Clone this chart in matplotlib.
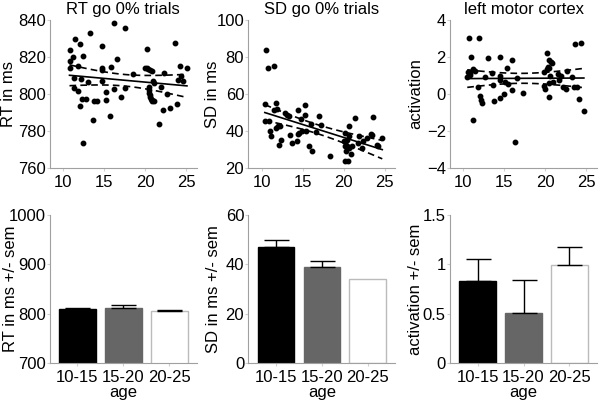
import numpy as np
import matplotlib
matplotlib.use("Agg")
import matplotlib.pyplot as plt

plt.rcParams['font.family'] = ['Liberation Sans', 'DejaVu Sans']

# scatter data: age vs RT, SD and activation
rt_age = [10.8, 10.9, 10.8, 11.2, 11.5, 12.1, 12.5, 11.8, 11.4, 11.3, 11.8, 12.2, 12.1, 12.3,
          12.8, 13.0, 12.5, 13.3, 13.7, 13.8, 14.1, 14.7, 14.8, 14.8, 14.8, 15.3, 15.3, 15.7,
          15.8, 16.2, 16.2, 16.6, 17.1, 17.5, 17.6, 18.5, 20.2, 20.0, 20.2, 20.4, 20.6, 20.9,
          20.5, 20.5, 20.5, 20.6, 20.6, 20.7, 20.8, 20.9, 21.0, 21.1, 21.1, 21.7, 21.9, 22.3,
          22.2, 22.7, 23.0, 23.6, 23.9, 24.0, 24.3, 24.4, 24.6, 25.1]
rt = [817.9, 823.8, 814.3, 820.2, 829.6, 826.9, 820.6, 815.2, 808.5, 803.5, 801.7, 808.2,
      793.6, 797.4, 797.4, 806.7, 773.5, 832.8, 785.7, 796.1, 796.5, 826.0, 813.9, 813.0,
      807.1, 801.3, 796.9, 788.2, 814.8, 838.2, 802.8, 818.8, 798.3, 835.9, 803.1, 810.7,
      824.4, 814.3, 813.9, 813.4, 813.0, 812.5, 803.7, 802.2, 800.8, 799.6, 798.3, 797.2,
      796.0, 796.9, 807.3, 805.8, 796.3, 783.9, 803.7, 811.2, 791.5, 799.9, 792.4, 827.4,
      794.7, 807.6, 815.2, 809.8, 807.3, 814.3]

sd_age = [10.5, 10.8, 11.5, 10.4, 10.4, 10.9, 11.0, 11.2, 11.5, 11.8, 11.9, 11.7, 12.0, 12.2,
          12.1, 12.4, 12.8, 13.1, 13.3, 13.5, 13.7, 14.4, 14.3, 14.5, 14.6, 14.8, 14.9, 15.3,
          15.3, 15.4, 15.8, 16.1, 16.0, 16.6, 17.0, 17.3, 18.3, 20.0, 20.2, 20.2, 20.3, 20.4,
          20.3, 20.6, 20.6, 20.2, 20.5, 20.7, 20.9, 21.0, 21.4, 21.7, 21.9, 22.2, 22.4, 22.8,
          23.3, 23.5, 23.6, 24.0, 24.2, 24.7]
sd = [83.8, 73.9, 75.4, 54.5, 45.2, 45.2, 40.1, 37.1, 51.5, 55.4, 52.0, 41.6, 42.5, 42.8,
      32.2, 35.3, 49.7, 48.8, 48.2, 38.0, 33.5, 51.5, 34.4, 38.3, 39.2, 46.6, 39.8, 48.8,
      54.2, 39.8, 31.7, 29.0, 43.9, 39.4, 47.9, 43.4, 26.3, 34.4, 39.2, 31.7, 32.6, 35.3,
      29.0, 37.1, 30.8, 23.6, 23.6, 42.8, 27.7, 32.0, 47.0, 33.5, 37.1, 30.8, 34.4, 36.2,
      38.5, 38.0, 47.5, 32.6, 31.7, 36.2]

act_age = [10.7, 11.9, 11.0, 10.6, 10.8, 10.5, 10.8, 11.2, 11.4, 11.8, 12.0, 12.2, 12.3, 11.2,
           12.7, 13.0, 13.5, 13.6, 13.8, 14.5, 14.5, 14.5, 14.5, 15.0, 15.1, 15.3, 15.5, 15.9,
           16.0, 16.3, 16.6, 17.3, 19.8, 19.9, 20.0, 20.2, 20.3, 20.2, 20.4, 20.5, 20.7, 20.8,
           20.4, 20.4, 20.6, 20.9, 21.5, 21.7, 21.9, 22.1, 22.5, 22.7, 23.2, 23.5, 23.6, 23.9,
           24.1, 24.4, 24.7]
act = [3.01, 3.05, 1.99, 1.21, 1.16, 0.91, 1.03, 1.34, 1.27, 0.37, -0.13, -0.31, -0.46, -1.43,
       0.94, 1.93, 1.16, 0.49, -0.37, 2.02, 0.98, 0.76, -0.19, 0.01, 0.64, 1.39, 0.53, 0.22,
       1.84, -2.62, 0.89, 0.08, 1.21, 0.44, 0.26, 2.20, 1.48, 1.36, 1.43, 1.84, 1.75, 1.66,
       0.62, -0.17, 0.98, 0.67, 1.09, 0.76, 0.98, 0.37, 0.26, 1.25, 0.94, 0.37, 2.69, 0.37,
       -0.26, 2.78, -0.91]

# group means +/- sem (0 = no error bar shown)
groups = ['10-15', '15-20', '20-25']
rt_mean = [809, 812, 805]
rt_sem = [3, 5, 2]
sd_mean = [47.2, 38.8, 34.2]
sd_sem = [2.7, 2.6, 0]
act_mean = [0.83, 0.51, 0.99]
act_sem = [0.22, 0.33, 0.19]

bar_colors = ['black', '#666666', 'white']
bar_edges = ['black', '#666666', '#bbbbbb']

fig = plt.figure(figsize=(6.0, 4.01), dpi=100)

W, H = 0.245, 0.369
AX_W_PX = W * 600
lefts = [0.083, 0.414, 0.75]
spine_col = '#a0a0a0'
FS = 12


def style(ax, label_off):
    for s in ['top', 'right']:
        ax.spines[s].set_visible(False)
    for s in ['left', 'bottom']:
        ax.spines[s].set_color(spine_col)
        ax.spines[s].set_linewidth(0.8)
    ax.tick_params(length=2, color='#d0d0d0', labelsize=FS)
    ax.tick_params(axis='x', pad=3)
    ax.tick_params(axis='y', pad=1)
    # ylabel placed by hand (px left of the spine)
    ax.yaxis.set_label_coords(-label_off / AX_W_PX, 0.5)


def scatter_panel(left, x, y, ylim, yticks, title, ylabel, label_off):
    ax = fig.add_axes([left, 0.581, W, H])
    x = np.array(x)
    y = np.array(y)
    ax.plot(x, y, 'o', color='black', markersize=3.2)
    # linear fit with 95% confidence band
    n = len(x)
    b, a = np.polyfit(x, y, 1)
    xs = np.linspace(x.min(), x.max(), 100)
    ys = a + b * xs
    res = y - (a + b * x)
    s = np.sqrt(np.sum(res ** 2) / (n - 2))
    se = s * np.sqrt(1.0 / n + (xs - x.mean()) ** 2 / np.sum((x - x.mean()) ** 2))
    ax.plot(xs, ys, '-', color='black', lw=1.2)
    ax.plot(xs, ys + 1.99 * se, '--', color='black', lw=1.2, dashes=(4, 2.5))
    ax.plot(xs, ys - 1.99 * se, '--', color='black', lw=1.2, dashes=(4, 2.5))
    ax.set_xlim(8.4, 26.3)
    ax.set_xticks([10, 15, 20, 25])
    ax.set_ylim(*ylim)
    ax.set_yticks(yticks)
    ax.set_title(title, fontsize=FS, pad=4)
    ax.set_ylabel(ylabel, fontsize=FS)
    style(ax, label_off)
    return ax


def bar_panel(left, means, sems, ylim, yticks, yticklabels, ylabel, label_off):
    ax = fig.add_axes([left, 0.095, W, H])
    xpos = np.arange(1, len(groups) + 1)
    ax.bar(xpos, means, width=0.8, color=bar_colors, edgecolor=bar_edges, linewidth=1, zorder=2)
    for xp, m, e in zip(xpos, means, sems):
        if e > 0:
            ax.errorbar([xp], [m], yerr=[[0], [e]], fmt='none', ecolor='black',
                        elinewidth=1, capsize=9, capthick=1, zorder=3)
    ax.set_xlim(0.4, 3.6)
    ax.set_xticks(xpos)
    ax.set_xticklabels(groups)
    ax.set_ylim(*ylim)
    ax.set_yticks(yticks)
    ax.set_yticklabels(yticklabels)
    ax.set_xlabel('age', fontsize=FS, labelpad=0)
    ax.set_ylabel(ylabel, fontsize=FS)
    style(ax, label_off)
    return ax


scatter_panel(lefts[0], rt_age, rt, (760, 840), [760, 780, 800, 820, 840],
              'RT go 0% trials', 'RT in ms', 34)
scatter_panel(lefts[1], sd_age, sd, (20, 100), [20, 40, 60, 80, 100],
              'SD go 0% trials', 'SD in ms', 28)
scatter_panel(lefts[2], act_age, act, (-4, 4), [-4, -2, 0, 2, 4],
              'left motor cortex', 'activation', 27)

bar_panel(lefts[0], rt_mean, rt_sem, (700, 1000), [700, 800, 900, 1000],
          ['700', '800', '900', '1000'], 'RT in ms +/- sem', 32)
bar_panel(lefts[1], sd_mean, sd_sem, (0, 60), [0, 20, 40, 60],
          ['0', '20', '40', '60'], 'SD in ms +/- sem', 27)
bar_panel(lefts[2], act_mean, act_sem, (0, 1.5), [0, 0.5, 1, 1.5],
          ['0', '0.5', '1', '1.5'], 'activation +/- sem', 27)

fig.savefig('out.png', dpi=100)
